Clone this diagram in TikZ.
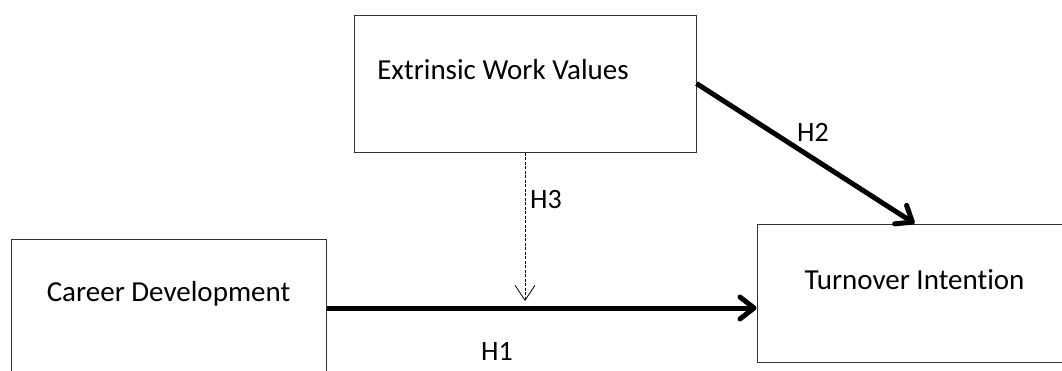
\documentclass[tikz,border=0pt]{standalone}
\usepackage{fontspec}
\setmainfont{Carlito}[Ligatures=NoCommon]
\usepackage{tikz}
\usetikzlibrary{arrows.meta}

\tikzset{
    varbox/.style={draw=black!80, line width=1pt, minimum width=315pt, minimum height=138pt, inner sep=0pt},
    vartext/.style={inner sep=0pt, font=\fontsize{29}{34}\selectfont},
    hyplabel/.style={inner sep=0pt, font=\fontsize{28}{33}\selectfont},
    mainpath/.style={line width=5pt, -{Straight Barb[length=14pt,width=22pt,line cap=round,line join=round]}},
    modpath/.style={line width=0.8pt, dash pattern=on 3pt off 1.5pt, -{Straight Barb[length=15pt,width=20pt]}}
}

\begin{document}
\begin{tikzpicture}[x=1pt, y=-1pt]
            \clip (0,0) rectangle (1062,370);
            \fill[white] (0,0) rectangle (1062,370);
            \node[varbox] (cd) at (168.5,308) {};
            \node[varbox, minimum width=342pt, minimum height=137pt] (ewv) at (525,83.5) {};
            \node[varbox] (ti) at (914.5,293) {};
            \node[vartext] at ([yshift=14pt]cd.center) {Career Development};
            \node[vartext] at ([xshift=-22pt, yshift=13.5pt]ewv.center) {Extrinsic Work Values};
            \node[vartext] at ([yshift=13pt]ti.center) {Turnover Intention};
            \coordinate (h3end) at ([yshift=7pt]ewv.south |- cd.east);
            \draw[mainpath] (cd.east) -- (cd.east -| ti.west);
            \draw[mainpath] (ewv.east) -- (ti.north);
            \draw[modpath] (ewv.south) -- (h3end);
            \node[hyplabel] at (497,351) {H1};
            \node[hyplabel] at (813,132) {H2};
            \node[hyplabel] at (546,200) {H3};
\end{tikzpicture}
\end{document}
